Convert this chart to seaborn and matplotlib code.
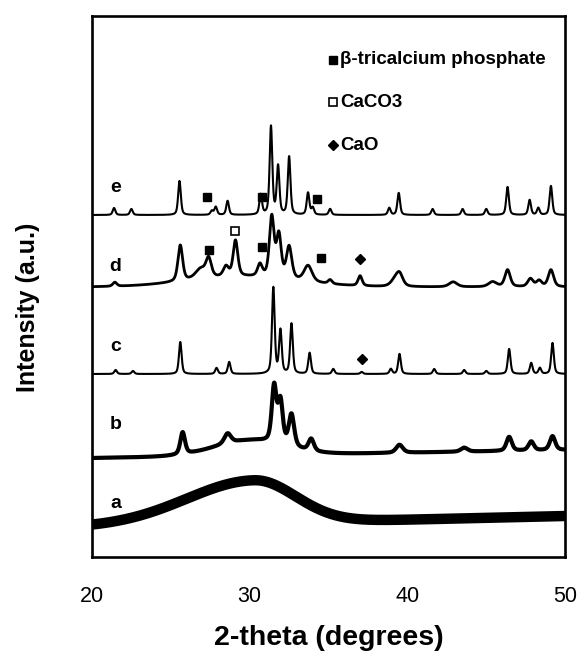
import numpy as np
import pandas as pd
import matplotlib
matplotlib.use("Agg")
import matplotlib.pyplot as plt
import seaborn as sns

# peaks: position (deg 2-theta), height above baseline (px), fwhm (deg)
e_pos = [21.4, 22.5, 25.55, 27.6, 27.85, 28.6, 30.7, 31.35, 31.8, 32.5, 33.7, 34.0, 35.1,
         38.85, 39.45, 41.6, 43.5, 45.0, 46.35, 47.75, 48.3, 49.1]
e_hgt = [7, 6, 34, 4, 8, 14, 20, 88, 48, 58, 22, 7, 6, 7, 22, 6, 6, 6, 28, 15, 7, 29]
e_fwhm = [0.2] * len(e_pos)
e_base = 342

d_pos = [21.45, 25.6, 26.9, 27.4, 28.5, 29.1, 30.65, 31.4, 31.85, 32.5, 33.7, 35.1, 37.0,
         39.2, 39.5, 42.9, 45.4, 46.35, 47.8, 48.35, 49.1]
d_hgt = [4, 36, 10, 18, 10, 36, 12, 60, 42, 32, 16, 4, 10, 6, 12, 5, 5, 17, 8, 6, 17]
d_fwhm = [0.3, 0.35, 0.8, 0.4, 0.4, 0.35, 0.35, 0.35, 0.35, 0.4, 0.6, 0.3, 0.3,
          0.6, 0.5, 0.6, 0.6, 0.4, 0.4, 0.4, 0.4]
d_base = 270
d_hump = (29.5, 10, 3.5)  # centre, height, sigma

c_pos = [21.5, 22.6, 25.6, 27.9, 28.7, 31.5, 31.95, 32.65, 33.8, 35.3, 37.1, 38.95, 39.5,
         41.7, 43.6, 45.0, 46.45, 47.85, 48.4, 49.2]
c_hgt = [4, 3, 32, 6, 12, 86, 43, 50, 21, 5, 2, 5, 20, 5, 4, 3, 25, 11, 6, 31]
c_fwhm = [0.2] * len(c_pos)
c_base = 183

b_pos = [25.75, 28.6, 31.55, 31.95, 32.65, 33.9, 39.5, 43.6, 46.45, 47.85, 49.2]
b_hgt = [22, 10, 56, 42, 32, 12, 8, 4, 14, 9, 14]
b_fwhm = [0.35, 0.5, 0.35, 0.35, 0.4, 0.4, 0.5, 0.5, 0.4, 0.4, 0.4]
b_base = (99, 107)  # at 20 and 50 deg
b_hump = (30.0, 15, 2.2)

a_base = (30, 41)
a_hump = (30.3, 43, 4.3, 2.6)  # centre, height, left sigma, right sigma

labels = ["a", "b", "c", "d", "e"]
label_y = [54, 133, 211, 291, 370]

tcp_x = [27.3, 30.8, 34.3, 27.4, 30.8, 34.5]
tcp_y = [360, 360, 358, 307, 310, 299]
caco3_x = [29.07]
caco3_y = [326]
cao_x = [37.0, 37.1]
cao_y = [298, 198]


def pattern(x, pos, hgt, fwhm, eta=0.5):
    y = np.zeros_like(x)
    for p, h, w in zip(pos, hgt, fwhm):
        g = np.exp(-4 * np.log(2) * ((x - p) / w) ** 2)
        l = 1 / (1 + 4 * ((x - p) / w) ** 2)
        y += h * (eta * l + (1 - eta) * g)
    return y


x = np.linspace(20, 50, 3001)
ya = a_base[0] + (a_base[1] - a_base[0]) * (x - 20) / 30
sig = np.where(x < a_hump[0], a_hump[2], a_hump[3])
ya = ya + a_hump[1] * np.exp(-(x - a_hump[0]) ** 2 / (2 * sig ** 2))
yb = b_base[0] + (b_base[1] - b_base[0]) * (x - 20) / 30
yb = yb + b_hump[1] * np.exp(-(x - b_hump[0]) ** 2 / (2 * b_hump[2] ** 2)) + pattern(x, b_pos, b_hgt, b_fwhm)
yc = c_base + pattern(x, c_pos, c_hgt, c_fwhm)
yd = d_base + d_hump[1] * np.exp(-(x - d_hump[0]) ** 2 / (2 * d_hump[2] ** 2)) + pattern(x, d_pos, d_hgt, d_fwhm)
ye = e_base + pattern(x, e_pos, e_hgt, e_fwhm)

df = pd.DataFrame({"x": np.tile(x, 5),
                   "y": np.concatenate([ya, yb, yc, yd, ye]),
                   "s": np.repeat(labels, len(x))})

sns.set_style("white")
plt.rcParams["font.family"] = ["Liberation Sans", "DejaVu Sans"]
plt.rcParams["text.color"] = "black"
plt.rcParams["axes.labelcolor"] = "black"
plt.rcParams["xtick.color"] = "black"

fig = plt.figure(figsize=(5.82, 6.53), dpi=100)
ax = fig.add_axes([0.158, 0.147, 0.813, 0.8285])

lws = {"a": 7.5, "b": 3.0, "c": 1.5, "d": 2.0, "e": 1.5}
for s in labels:
    sns.lineplot(data=df[df.s == s], x="x", y="y", ax=ax, color="black",
                 linewidth=lws[s], estimator=None, sort=False)

for s, yy in zip(labels, label_y):
    ax.text(21.5, yy, s, fontsize=14, fontweight="bold", ha="center", va="center")

ax.plot(tcp_x, tcp_y, ls="none", marker="s", ms=6, color="black")
ax.plot(caco3_x, caco3_y, ls="none", marker="s", ms=6, mfc="white", mec="black", mew=1.2)
ax.plot(cao_x, cao_y, ls="none", marker="D", ms=5, color="black")

# legend drawn as text in the top right
ax.plot([35.3], [497], marker="s", ms=6, color="black")
ax.text(35.75, 497, "β-tricalcium phosphate", fontsize=13.5, fontweight="bold", va="center")
ax.plot([35.3], [455], marker="s", ms=6, mfc="white", mec="black", mew=1.2)
ax.text(35.75, 455, "CaCO3", fontsize=13.5, fontweight="bold", va="center")
ax.plot([35.3], [412], marker="D", ms=5, color="black")
ax.text(35.75, 412, "CaO", fontsize=13.5, fontweight="bold", va="center")

ax.set_xlim(20, 50)
ax.set_ylim(0, 541)
ax.set_xticks([20, 30, 40, 50])
ax.set_xticks(np.arange(20, 51, 2), minor=True)
ax.set_yticks([])
ax.tick_params(axis="x", which="both", direction="in", length=3, width=0.8,
               labelsize=15.5, pad=21)
for sp in ax.spines.values():
    sp.set_visible(True)
    sp.set_linewidth(1.9)
    sp.set_color("black")

ax.set_xlabel("2-theta (degrees)", fontsize=20.5, fontweight="bold", labelpad=13)
ax.set_ylabel("Intensity (a.u.)", fontsize=18, fontweight="bold")
ax.yaxis.set_label_coords(-0.11, 0.462)

fig.savefig("out.png", dpi=100)
